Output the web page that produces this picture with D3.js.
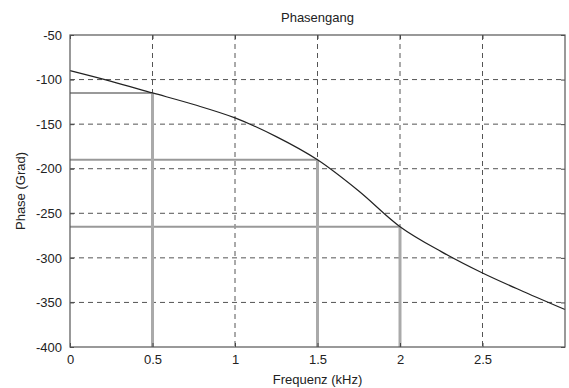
<!DOCTYPE html>
<html>
<head>
<meta charset="utf-8">
<script src="https://cdn.jsdelivr.net/npm/d3@7"></script>
<style>
body { margin: 0; background: #fff; }
text { font-family: "Liberation Sans", Arial, sans-serif; fill: #222; }
</style>
</head>
<body>
<script>
var width = 569;
var height = 388;

// curve
var freq = [0, 0.25, 0.5, 0.75, 1, 1.25, 1.5, 1.75, 2, 2.25, 2.5, 2.75, 3];
var phase = [-90, -102, -115, -128, -143, -164, -190, -225, -265, -293, -317, -338, -358];

// marked points
var markFreq = [0.5, 1.5, 2];
var markPhase = [-115, -190, -265];

var xTicks = [0, 0.5, 1, 1.5, 2, 2.5];
var yTicks = [-50, -100, -150, -200, -250, -300, -350, -400];

var margin = {top: 35, right: 4, bottom: 41, left: 70};
var w = width - margin.left - margin.right;
var h = height - margin.top - margin.bottom;

var svg = d3.select("body").append("svg").attr("width", width).attr("height", height);
var g = svg.append("g").attr("transform", "translate(" + margin.left + "," + margin.top + ")");

var x = d3.scaleLinear().domain([0, 3]).range([0, w]);
var y = d3.scaleLinear().domain([-400, -50]).range([h, 0]);

// grid
g.append("g").selectAll("line").data(xTicks.slice(1)).enter().append("line")
    .attr("x1", function (d) { return x(d); }).attr("x2", function (d) { return x(d); })
    .attr("y1", 0).attr("y2", h)
    .attr("stroke", "#555").attr("stroke-dasharray", "5,4");
g.append("g").selectAll("line").data(yTicks.slice(1, -1)).enter().append("line")
    .attr("y1", function (d) { return y(d); }).attr("y2", function (d) { return y(d); })
    .attr("x1", 0).attr("x2", w)
    .attr("stroke", "#555").attr("stroke-dasharray", "5,4");

// marker lines (gray pencil)
var marks = markFreq.map(function (f, i) { return {f: f, p: markPhase[i]}; });
g.append("g").selectAll("line").data(marks).enter().append("line")
    .attr("x1", 0).attr("x2", function (d) { return x(d.f); })
    .attr("y1", function (d) { return y(d.p); }).attr("y2", function (d) { return y(d.p); })
    .attr("stroke", "#999").attr("stroke-width", 2);
g.append("g").selectAll("line").data(marks).enter().append("line")
    .attr("x1", function (d) { return x(d.f); }).attr("x2", function (d) { return x(d.f); })
    .attr("y1", function (d) { return y(d.p); }).attr("y2", h)
    .attr("stroke", "#aaa").attr("stroke-width", 3);

// curve
var line = d3.line()
    .x(function (d, i) { return x(freq[i]); })
    .y(function (d) { return y(d); })
    .curve(d3.curveCatmullRom);
g.append("path").datum(phase).attr("d", line)
    .attr("fill", "none").attr("stroke", "#222").attr("stroke-width", 1.2);

// axes (ticks inward)
g.append("g").attr("transform", "translate(0," + h + ")")
    .call(d3.axisBottom(x).tickValues(xTicks).tickSize(-4).tickPadding(8).tickFormat(d3.format("")));
g.append("g")
    .call(d3.axisLeft(y).tickValues(yTicks).tickSize(-4).tickPadding(8).tickFormat(function (d) { return d; }));
g.append("g").call(d3.axisTop(x).tickValues(xTicks).tickSize(-4).tickFormat(""));
g.append("g").attr("transform", "translate(" + w + ",0)")
    .call(d3.axisRight(y).tickValues(yTicks).tickSize(-4).tickFormat(""));
g.selectAll(".domain").remove();
g.selectAll(".tick line").attr("stroke", "#444");
g.selectAll(".tick text").attr("font-size", 13).attr("fill", "#333");

g.append("rect").attr("width", w).attr("height", h)
    .attr("fill", "none").attr("stroke", "#555").attr("stroke-width", 1.2);

svg.append("text").attr("x", margin.left + w / 2).attr("y", 22)
    .attr("text-anchor", "middle").attr("font-size", 13).text("Phasengang");
svg.append("text").attr("x", margin.left + w / 2).attr("y", 384)
    .attr("text-anchor", "middle").attr("font-size", 13).text("Frequenz (kHz)");
svg.append("text").attr("transform", "translate(25," + (margin.top + h / 2) + ") rotate(-90)")
    .attr("text-anchor", "middle").attr("font-size", 13).text("Phase (Grad)");
</script>
</body>
</html>
